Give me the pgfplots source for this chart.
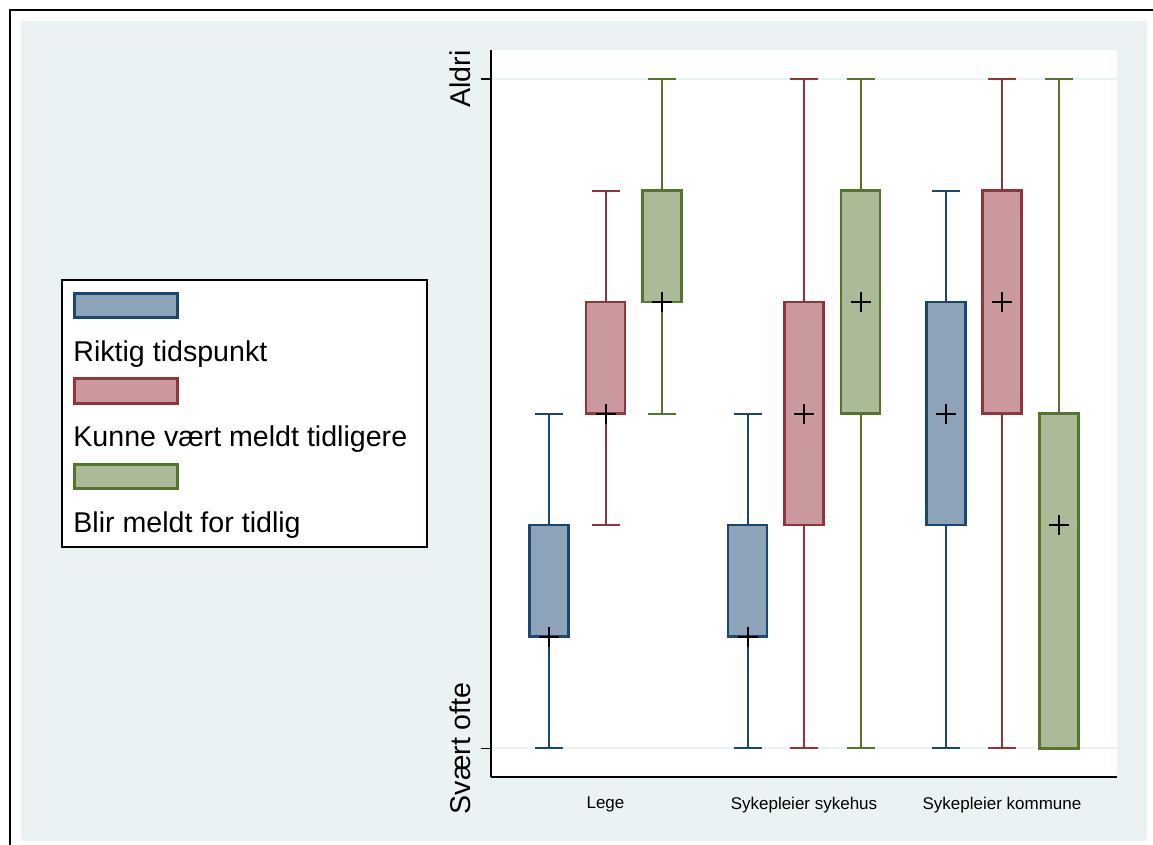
\documentclass[border=0pt]{standalone}
\usepackage{pgfplots}
\pgfplotsset{compat=1.18}
\usepgfplotslibrary{statistics}
\usepackage{fontspec}
\setmainfont{Liberation Sans}
\definecolor{c1}{RGB}{26,71,111}
\definecolor{c1f}{RGB}{140,163,184}
\definecolor{c2}{RGB}{144,53,59}
\definecolor{c2f}{RGB}{201,153,157}
\definecolor{c3}{RGB}{85,117,47}
\definecolor{c3f}{RGB}{171,187,151}
\definecolor{panel}{RGB}{234,242,243}
\pgfplotsset{
  sbox/.style={boxplot/box extend=39, boxplot/whisker extend=28,
    boxplot/every box/.style={line width=1.3pt},
    boxplot/every whisker/.style={line width=1pt},
    boxplot/every median/.style={draw=none}},
  sblue/.style={sbox, draw=c1, fill=c1f},
  sred/.style={sbox, draw=c2, fill=c2f},
  sgreen/.style={sbox, draw=c3, fill=c3f},
}
\begin{document}
\begin{tikzpicture}
\begin{scope}[x=0.5pt,y=-0.5pt]
  \fill[white] (0,0) rectangle (1153,845);
  \fill[panel] (21,21) rectangle (1147,841);
  \draw[black, line width=1pt] (10,850) -- (10,10) -- (1160,10);
\end{scope}
\begin{axis}[
  at={(245.35pt,-388.35pt)}, anchor=south west,
  scale only axis, width=313.3pt, height=363.6pt,
  xmin=490.7, xmax=1117.3, ymin=0.745, ymax=7.265,
  axis x line*=bottom, axis y line*=left,
  axis line style={black, line width=0.9pt},
  axis background/.style={fill=white},
  xtick={605.5,804,1002},
  xticklabels={Lege, Sykepleier sykehus, Sykepleier kommune},
  x tick label style={font=\fontsize{8.5}{10}\selectfont, anchor=north, inner sep=0pt, yshift=-5pt},
  xtick style={draw=none},
  ytick={1,7}, yticklabels={Svært ofte, Aldri},
  y tick label style={rotate=90, anchor=south, inner sep=5pt, font=\fontsize{14.3}{16}\selectfont},
  tick align=outside, major tick length=5pt,
  ytick style={black, line width=0.6pt},
  ymajorgrids, grid style={panel, line width=1pt},
  boxplot/draw direction=y,
  clip=false,
]
% Lege
\addplot[sblue, boxplot prepared={draw position=549, lower whisker=1, lower quartile=2, median=2, upper quartile=3, upper whisker=4}] coordinates {};
\addplot[sred, boxplot prepared={draw position=605.5, lower whisker=3, lower quartile=4, median=4, upper quartile=5, upper whisker=6}] coordinates {};
\addplot[sgreen, boxplot prepared={draw position=662, lower whisker=4, lower quartile=5, median=5, upper quartile=6, upper whisker=7}] coordinates {};
% Sykepleier sykehus
\addplot[sblue, boxplot prepared={draw position=747.5, lower whisker=1, lower quartile=2, median=2, upper quartile=3, upper whisker=4}] coordinates {};
\addplot[sred, boxplot prepared={draw position=804, lower whisker=1, lower quartile=3, median=4, upper quartile=5, upper whisker=7}] coordinates {};
\addplot[sgreen, boxplot prepared={draw position=860.5, lower whisker=1, lower quartile=4, median=5, upper quartile=6, upper whisker=7}] coordinates {};
% Sykepleier kommune
\addplot[sblue, boxplot prepared={draw position=946, lower whisker=1, lower quartile=3, median=4, upper quartile=5, upper whisker=6}] coordinates {};
\addplot[sred, boxplot prepared={draw position=1002, lower whisker=1, lower quartile=4, median=5, upper quartile=6, upper whisker=7}] coordinates {};
\addplot[sgreen, boxplot prepared={draw position=1059, lower whisker=1, lower quartile=1, median=3, upper quartile=4, upper whisker=7}] coordinates {};
% medians
\addplot[only marks, mark=+, mark size=5pt, black, mark options={line width=1pt}] coordinates {
  (549,2) (605.5,4) (662,5) (747.5,2) (804,4) (860.5,5) (946,4) (1002,5) (1059,3)};
\end{axis}
\begin{scope}[x=0.5pt,y=-0.5pt]
  \draw[black, line width=0.6pt, fill=white] (62,280) rectangle (427,547);
  \draw[c1, line width=1.3pt, fill=c1f] (74.5,293.5) rectangle (177.5,317.5);
  \draw[c2, line width=1.3pt, fill=c2f] (74.5,378.5) rectangle (177.5,403.5);
  \draw[c3, line width=1.3pt, fill=c3f] (74.5,464.5) rectangle (177.5,488.5);
  \node[anchor=base west, inner sep=0pt, font=\fontsize{14.3}{16}\selectfont] at (73,362) {Riktig tidspunkt};
  \node[anchor=base west, inner sep=0pt, font=\fontsize{14.3}{16}\selectfont] at (73,447) {Kunne vært meldt tidligere};
  \node[anchor=base west, inner sep=0pt, font=\fontsize{14.3}{16}\selectfont] at (73,532) {Blir meldt for tidlig};
  \pgfresetboundingbox
  \path[use as bounding box] (0,0) rectangle (1153,845);
\end{scope}
\end{tikzpicture}
\end{document}
